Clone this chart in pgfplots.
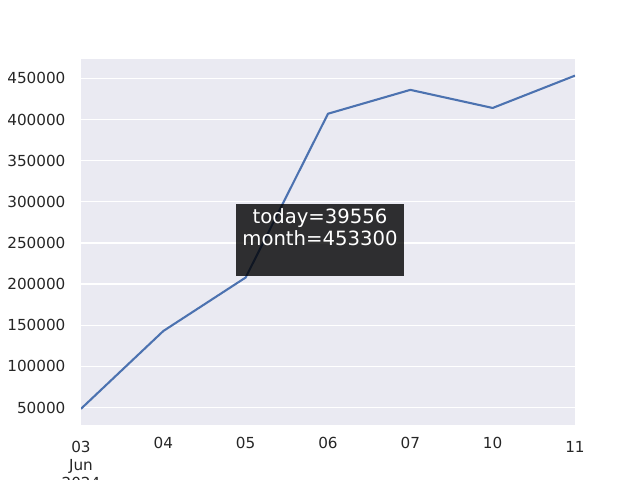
\documentclass[border=0pt]{standalone}
\usepackage{pgfplots}
\pgfplotsset{compat=1.18}
\usepackage{fontspec}
\setmainfont{DejaVu Sans}
\definecolor{sbbg}{HTML}{EAEAF2}
\definecolor{sbblue}{HTML}{4C72B0}
\definecolor{sbtext}{HTML}{262626}
\begin{document}
\begin{tikzpicture}
\useasboundingbox (0,0) rectangle (460.8bp,345.6bp);
\clip (0,0) rectangle (460.8bp,345.6bp);
\begin{axis}[
  at={(58.32bp,39.6bp)}, anchor=south west,
  scale only axis, width=355.68bp, height=263.52bp,
  axis background/.style={fill=sbbg},
  axis line style={draw=none},
  xmin=0, xmax=6, ymin=28800, ymax=473500,
  scaled y ticks=false,
  xtick={0,1,2,3,4,5,6},
  xticklabels={{\rule{0pt}{10.4bp}03\\Jun\\2024},04,05,06,07,10,{\rule{0pt}{10.4bp}11}},
  ytick={50000,100000,150000,200000,250000,300000,350000,400000,450000},
  yticklabels={50000,100000,150000,200000,250000,300000,350000,400000,450000},
  major tick length=0pt,
  tick style={draw=none},
  grid=major,
  major grid style={draw=white, line width=1bp},
  xmajorgrids=false,
  ticklabel style={font=\fontsize{11}{13.2}\selectfont, text=sbtext},
  xticklabel style={anchor=north, inner sep=0pt, yshift=-8.9bp, align=center},
  yticklabel style={anchor=east, inner sep=0pt, xshift=-11bp},
  /pgf/number format/assume math mode=true,
]
\addplot[sbblue, line width=1.5bp, line join=round] coordinates {
  (0,48500) (1,143000) (2,208000) (3,407000) (4,436000) (5,414000) (6,453300)
};
\fill[black, opacity=0.8] (rel axis cs:0.3138,0.4071) rectangle (rel axis cs:0.6538,0.6038);
\node[text=white, align=center, inner sep=0pt, anchor=north,
  font=\fontsize{14.2}{15.6}\selectfont] at (rel axis cs:0.4838,0.5915)
  {today=39556\\month=453300};
\end{axis}
\end{tikzpicture}
\end{document}
